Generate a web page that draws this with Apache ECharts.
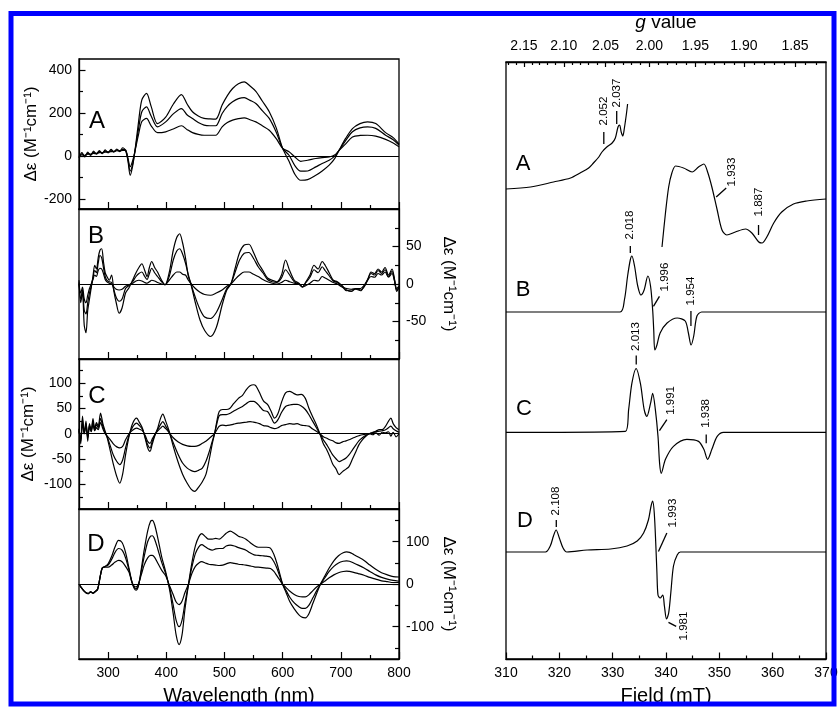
<!DOCTYPE html>
<html>
<head>
<meta charset="utf-8">
<script src="https://cdn.jsdelivr.net/npm/echarts@6/dist/echarts.min.js"></script>
<style>
  html, body { margin: 0; padding: 0; background: #fff; }
  #chart { width: 838px; height: 707px; }
</style>
</head>
<body>
<div id="chart"></div>
<script>
// ---------- CD spectra (Δε, M^-1 cm^-1) ----------
const wlA = [250,255,260,265,270,275,280,285,290,295,300,305,310,315,320,325,330,
  334,338,342,346,352,358,366,374,385,399,412,426,436,445,455,465,475,485,496,505,514,524,534,544,554,565,577,589,600,611,621,631,643,657,668,680,690,697,708,720,733,746,760,777,790,800];
const cdAHigh = [-10,15,-5,18,2,22,8,25,10,28,14,30,18,32,20,38,25,
  -20,-90,-50,20,150,260,290,230,150,180,240,285,240,205,185,174,172,171,236,280,313,335,344,325,300,255,205,130,35,-25,-85,-113,-110,-90,-70,-43,-10,26,80,127,150,158,150,108,85,55];
const cdAMid = [-5,10,0,12,5,15,12,20,14,22,18,25,20,28,24,30,28,
  -15,-70,-40,20,120,205,228,185,135,158,195,220,190,174,155,143,140,140,197,230,251,266,271,258,243,210,174,110,35,3,-45,-71,-70,-51,-35,-20,0,26,70,112,130,135,128,96,75,50];
const cdALow = [0,5,3,8,8,12,10,15,15,18,18,20,20,24,22,26,25,
  -10,-50,-25,20,95,160,174,140,108,112,125,140,122,108,100,96,96,96,135,155,166,173,177,168,158,140,119,80,35,19,-5,-25,-20,-12,-8,-5,5,26,55,88,95,96,92,77,60,42];

const wlB = [250,253,256,259,262,265,268,271,274,277,280,283,286,289,292,295,298,302,306,310,314,319,324,330,336,342,348,353,358,363,367,371,375,380,385,392,398,405,412,418,423,428,433,438,442,450,458,466,476,486,496,504,511,518,526,534,542,550,558,566,574,582,590,598,605,612,620,628,634,640,647,654,661,668,673,680,687,694,702,710,718,726,734,740,746,752,758,764,770,776,782,788,792,796,800];
const cdBHigh = [5,-25,-10,-55,-65,-35,-20,-5,10,25,20,35,45,47,30,15,10,5,12,-10,-25,-39,-32,-12,-5,5,15,22,27,18,10,22,30,22,16,5,-1,15,45,62,67,55,35,10,1,-25,-48,-62,-70,-58,-28,-8,0,20,42,52,53,42,28,18,8,5,3,12,32,18,5,1,-4,3,12,25,20,30,25,15,5,3,-2,-8,-10,-6,-8,-4,5,16,14,20,16,22,12,20,8,-10,-5];
const cdBMid = [2,-20,-8,-35,-40,-25,-12,-3,8,18,15,28,38,35,22,10,5,3,2,-8,-18,-23,-20,-6,-2,3,10,14,16,10,6,14,21,15,10,3,-1,10,32,44,47,40,28,12,1,-18,-34,-44,-46,-38,-21,-6,0,15,32,41,42,34,23,15,6,3,2,8,19,12,3,0,-4,2,9,19,15,23,18,11,4,2,-3,-9,-8,-7,-9,-3,6,14,12,18,14,19,10,17,6,-8,-4];
const cdBLow = [0,-12,-4,-20,-25,-15,-6,0,6,12,10,18,21,20,14,6,3,1,0,-4,-7,-8,-7,-3,-1,1,4,5,4,2,1,3,5,4,2,0,-1,5,12,16,16,13,12,5,1,-6,-11,-14,-15,-12,-8,-3,0,6,12,16,16,13,10,6,3,1,0,2,5,3,1,0,-4,-2,1,5,4,10,8,5,2,0,-4,-6,-7,-6,-6,-2,5,10,9,14,12,16,9,14,5,-6,-3];

const wlC = [250,253,256,259,262,265,268,271,274,277,280,283,287,291,295,299,304,309,315,320,325,330,336,342,349,354,359,364,368,372,376,380,385,390,394,399,405,412,420,428,436,443,449,456,462,468,474,479,483,487,491,497,503,509,516,524,531,538,544,550,554,560,567,574,580,586,592,598,605,612,619,625,632,639,645,651,658,664,670,676,681,686,692,697,703,709,714,720,726,731,737,743,749,755,760,766,771,777,782,786,790,795,800];
const cdCHigh = [10,-20,35,0,25,-15,20,5,30,10,22,15,41,20,5,-10,-35,-60,-85,-98,-80,-42,-5,20,31,22,11,-10,-28,-35,-20,-5,10,30,39,25,5,-25,-55,-80,-98,-110,-114,-105,-95,-81,-50,-20,0,25,44,48,48,50,60,70,76,88,95,97,95,82,65,58,45,31,40,62,81,84,80,77,78,70,51,35,18,0,-20,-32,-45,-60,-70,-81,-75,-70,-65,-50,-35,-22,-12,-5,0,3,5,8,8,15,25,31,20,12,8];
const cdCMid = [8,-15,28,3,20,-8,16,8,24,8,18,12,30,15,2,-8,-25,-42,-55,-61,-52,-28,-3,13,21,16,9,-8,-22,-28,-15,-3,8,18,24,15,3,-18,-40,-58,-68,-73,-75,-72,-68,-55,-35,-15,0,20,36,38,38,40,45,50,54,60,64,64,62,55,46,44,33,21,28,42,54,57,58,58,55,48,38,26,12,0,-12,-22,-32,-42,-50,-55,-52,-48,-42,-32,-22,-14,-8,-3,0,2,4,5,6,8,12,15,10,6,3];
const cdCLow = [5,-10,20,0,15,-5,12,4,18,6,12,8,22,10,0,-5,-12,-20,-26,-28,-25,-12,0,7,11,9,6,-4,-15,-19,-10,-2,5,11,15,10,2,-8,-16,-21,-24,-25,-25,-23,-19,-15,-9,-4,0,8,15,17,16,17,19,21,22,23,24,23,22,20,16,15,12,10,12,16,18,20,19,20,17,16,15,10,5,0,-6,-9,-12,-14,-18,-19,-16,-14,-12,-9,-6,-4,-2,-1,0,-2,2,-3,3,2,4,-5,3,-6,0];

const wlD = [250,254,258,262,266,270,274,278,282,286,290,295,300,306,312,318,324,330,336,341,345,348,352,357,362,368,373,376,380,386,392,399,406,412,417,422,427,432,438,444,450,456,461,467,473,479,485,491,497,503,510,517,524,531,537,544,551,558,565,572,579,585,590,595,600,606,612,620,628,634,639,645,652,659,665,672,680,688,696,704,710,715,722,730,740,750,760,770,780,790,800];
const cdDHigh = [0,-8,-15,-20,-22,-18,-21,-17,-12,15,38,42,48,65,88,103,98,75,37,5,-10,-14,-5,35,80,125,148,150,140,105,65,29,-15,-70,-120,-142,-120,-60,-2,50,90,112,119,112,106,106,108,106,112,120,125,120,113,110,106,98,91,87,87,87,85,70,50,25,0,-20,-40,-58,-72,-78,-79,-70,-45,-20,0,18,38,55,67,74,76,75,70,64,56,45,35,27,22,18,17];
const cdDMid = [0,-8,-15,-20,-22,-18,-21,-17,-12,15,38,42,45,58,75,84,80,62,33,5,-8,-10,-3,30,65,100,113,114,106,80,52,25,-10,-50,-85,-100,-85,-45,-2,40,72,88,93,88,83,80,83,84,84,90,92,90,86,83,80,74,69,68,67,66,64,53,38,19,0,-15,-30,-44,-53,-57,-57,-50,-32,-14,0,14,30,42,50,54,55,54,50,45,38,30,22,16,12,9,7];
const cdDLow = [0,-8,-15,-20,-22,-18,-21,-17,-12,15,38,40,40,45,52,56,53,42,28,5,-5,-6,0,22,45,62,68,68,63,48,33,20,-5,-25,-42,-48,-40,-20,0,25,42,50,53,50,47,46,45,44,45,48,51,49,47,46,45,43,41,40,39,38,37,30,20,10,0,-8,-16,-24,-29,-30,-30,-25,-15,-6,0,7,15,22,27,30,31,30,28,25,21,16,12,8,6,4,4];

// ---------- EPR spectra (field in mT, derivative intensity in arbitrary units) ----------
const MW_FREQ_GHZ = 9.43;
const G_FACTOR_CONST = 71.4477 * MW_FREQ_GHZ;   // g * B(mT)
const fieldOf = g => G_FACTOR_CONST / g;

const eprA1Field = [310,314.6,318.9,322.1,323.9,325.5,326.4,327.4,328.0,328.9,329.9,330.5,331.0,331.3,331.6,331.9,332.2,332.6,332.8];
const eprA1Int   = [0,2,7,11,16,21,26,32,37,42,46,51,62,64,57,53,61,76,85];
const eprA2Field = [339.25,339.9,340.5,341.1,341.8,343.3,344.9,346.1,347.1,347.8,348.6,349.6,350.5,351.4,353.0,354.9,356.1,357.4,358.0,358.9,360.2,361.7,363.9,366.4,370];
const eprA2Int   = [-58,-24,2,16,23,21,17,22,25,17,2,-21,-41,-46,-43,-40,-44,-53,-54,-48,-34,-23,-15,-12,-10];
const eprBField  = [310,331.4,332.2,332.8,333.3,333.6,334.1,334.7,335.3,335.9,336.6,337.1,337.5,337.7,337.9,338.3,338.9,340.2,342.1,343.6,344.2,344.7,345.2,345.8,346.7,370];
const eprBInt    = [0,0,12,36,52,56,46,26,17,22,36,26,2,-18,-38,-33,-21,-11,-6,-9,-21,-33,-24,-4,0,0];
const eprCField  = [310,332.4,333.0,333.6,334.4,335.2,335.9,336.4,337.1,337.5,338.0,338.5,338.8,339.1,339.9,341.4,343.9,346.1,347.1,347.8,348.6,349.6,350.8,370];
const eprCInt    = [0,1,23,49,64,49,23,16,29,39,23,-4,-31,-41,-27,-14,-7,-9,-17,-27,-17,-4,0,0];
const eprDField  = [310,317.4,318.3,318.9,319.4,320.0,320.7,321.4,325.2,329.6,332.7,334.6,335.8,336.7,337.2,337.5,337.8,338.1,338.3,338.5,338.9,339.4,339.7,340.1,340.5,340.9,341.4,342.1,342.7,370];
const eprDInt    = [0,0,6,16,22,14,4,0,2,3,6,11,19,32,46,51,39,6,-21,-43,-46,-43,-54,-67,-61,-41,-14,-3,0,0];

// g-value annotations: [g, lineStartInt, lineEndInt, lineStartDx, lineEndDx, textDx, textInt]
const gMarksA = [[2.052,45,57,0,0,0,78],[2.037,65,78,0,0,0,96],[1.933,-8,1,4.6,14.6,20.3,17],[1.887,-46,-36,1.6,1.6,1.6,-13]];
const gMarksB = [[2.018,59,66,-3,-3,-3,87],[1.996,5.6,15.6,0.5,6.5,12,35],[1.954,-14,1,-0.7,-0.7,-0.7,21]];
const gMarksC = [[2.013,68,77,-1.5,-1.5,-1.5,96],[1.991,1.7,12.7,2,9.4,13.4,32],[1.938,-11,-2,-0.6,-0.6,-0.6,19]];
const gMarksD = [[2.108,25,32,-1,-1,-1,51],[1.993,0.6,19,2.8,11.2,16.8,39],[1.981,-70.4,-74.4,1.9,9.6,17.6,-74]];

// ---------- tick values ----------
const wlMajor = [300,400,500,600,700,800];
const wlMinor = [350,450,550,650,750];
const fieldMajor = [310,320,330,340,350,360,370];
const fieldMinor = [315,325,335,345,355,365];
const gMajor = [2.15,2.10,2.05,2.00,1.95,1.90,1.85];
const gMinor = [2.17,2.16,2.14,2.13,2.12,2.11,2.09,2.08,2.07,2.06,2.04,2.03,2.02,2.01,1.99,1.98,1.97,1.96,1.94,1.93,1.92,1.91,1.89,1.88,1.87,1.86,1.84,1.83];
const yTicksA = { major: [-200,0,200,400], minor: [-100,100,300] };
const yTicksB = { major: [-50,0,50], minor: [-75,-25,25,75] };
const yTicksC = { major: [-100,-50,0,50,100], minor: [-125,-75,-25,25,75,125] };
const yTicksD = { major: [-100,0,100], minor: [-150,-50,50,150] };

// ---------- layout helpers ----------
const FONT = 'Liberation Sans, Arial, Helvetica, sans-serif';
const BLACK = '#000';
const pairs = (xs, ys) => xs.map((x, i) => [x, ys[i]]);
const dEps = 'Δε (M⁻¹cm⁻¹)';

function tickAxes(common, majors, minors, labels, majorLen, minorLen, extra) {
  const major = Object.assign({}, common, {
    axisLine: { show: true, onZero: false, lineStyle: { color: BLACK, width: 1.3 } },
    axisTick: { show: true, inside: true, length: majorLen, customValues: majors, lineStyle: { color: BLACK, width: 1.2 } },
    axisLabel: labels
      ? { show: true, customValues: labels, margin: 7, color: BLACK, fontSize: 14, fontFamily: FONT }
      : { show: false },
    splitLine: { show: false },
    minorTick: { show: false },
    minorSplitLine: { show: false }
  }, extra || {});
  const minor = Object.assign({}, common, {
    axisLine: { show: false, onZero: false },
    axisTick: { show: true, inside: true, length: minorLen, customValues: minors, lineStyle: { color: BLACK, width: 1.2 } },
    axisLabel: { show: false },
    splitLine: { show: false }
  });
  return [major, minor];
}

const nameStyle = { fontSize: 17, fontFamily: FONT, color: BLACK };

// left panel grids (A-D stacked) and EPR grid; fixed boxes, no automatic shrinking
const grids = [
  { left: 79, top: 59, width: 320, height: 150 },
  { left: 79, top: 209, width: 320, height: 150 },
  { left: 79, top: 359, width: 320, height: 150 },
  { left: 79, top: 509, width: 320, height: 150 },
  { left: 506, top: 62, width: 320, height: 597 }
].map(g => Object.assign(g, {
  show: true, borderColor: BLACK, borderWidth: 1.3, backgroundColor: 'transparent',
  containLabel: false, outerBoundsMode: 'none'
}));

const xAxes = [];
for (let i = 0; i < 4; i++) {
  const extra = i === 3 ? {
    name: 'Wavelength (nm)', nameLocation: 'middle', nameGap: 27,
    nameTextStyle: { fontSize: 20, fontFamily: FONT, color: BLACK }
  } : {};
  xAxes.push(...tickAxes({ type: 'value', gridIndex: i, min: 250, max: 800, position: 'bottom' },
    wlMajor, wlMinor, i === 3 ? wlMajor : null, 7, 4, extra));
}
// EPR field axis (index 8, 9)
xAxes.push(...tickAxes({ type: 'value', gridIndex: 4, min: 310, max: 370, position: 'bottom' },
  fieldMajor, fieldMinor, fieldMajor, 6.5, 3.5, {
    name: 'Field (mT)', nameLocation: 'middle', nameGap: 27,
    nameTextStyle: { fontSize: 20, fontFamily: FONT, color: BLACK }
  }));
// g-value axis on top (index 10, 11)
const gTop = tickAxes({ type: 'value', gridIndex: 4, min: 310, max: 370, position: 'top' },
  gMajor.map(fieldOf), gMinor.map(fieldOf), gMajor.map(fieldOf), 5, 3, {
    name: '{i|g} value', nameLocation: 'middle', nameGap: 30,
    nameTextStyle: { fontSize: 19, fontFamily: FONT, color: BLACK, rich: { i: { fontStyle: 'italic', fontSize: 19, fontFamily: FONT } } }
  });
gTop[0].axisLabel.formatter = v => (G_FACTOR_CONST / v).toFixed(2);
gTop[0].axisLabel.margin = 9;
xAxes.push(...gTop);

const yAxes = [];
yAxes.push(...tickAxes({ type: 'value', gridIndex: 0, min: -246.5, max: 450, position: 'left' },
  yTicksA.major, yTicksA.minor, yTicksA.major, 6.5, 4,
  { name: dEps, nameLocation: 'middle', nameGap: 37, nameRotate: 90, nameTextStyle: nameStyle }));
yAxes.push(...tickAxes({ type: 'value', gridIndex: 1, min: -100, max: 100, position: 'right' },
  yTicksB.major, yTicksB.minor, yTicksB.major, 6.5, 4,
  { name: dEps, nameLocation: 'middle', nameGap: 41, nameRotate: -90, nameTextStyle: nameStyle }));
yAxes.push(...tickAxes({ type: 'value', gridIndex: 2, min: -149, max: 148, position: 'left' },
  yTicksC.major, yTicksC.minor, yTicksC.major, 6.5, 4,
  { name: dEps, nameLocation: 'middle', nameGap: 42, nameRotate: 90, nameTextStyle: nameStyle }));
yAxes.push(...tickAxes({ type: 'value', gridIndex: 3, min: -176, max: 177, position: 'right' },
  yTicksD.major, yTicksD.minor, yTicksD.major, 6.5, 4,
  { name: dEps, nameLocation: 'middle', nameGap: 41, nameRotate: -90, nameTextStyle: nameStyle }));
// hidden intensity axes for the four stacked EPR traces (index 8-11)
[[-470, 127], [-347, 250], [-227, 371], [-107, 490]].forEach(([mn, mx]) => {
  yAxes.push({ type: 'value', gridIndex: 4, min: mn, max: mx, show: false, splitLine: { show: false } });
});

const lineStyle = { color: BLACK, width: 1.2 };
function trace(data, xi, yi, extra) {
  return Object.assign({
    type: 'line', data, xAxisIndex: xi, yAxisIndex: yi,
    showSymbol: false, symbol: 'none', smooth: 0.3, lineStyle, silent: true, clip: true
  }, extra || {});
}
const zeroLine = {
  silent: true, symbol: 'none', label: { show: false },
  lineStyle: { color: BLACK, width: 1.2, type: 'solid' }, data: [{ yAxis: 0 }]
};

const series = [];
const cdPanels = [
  [wlA, cdAHigh, cdAMid, cdALow],
  [wlB, cdBHigh, cdBMid, cdBLow],
  [wlC, cdCHigh, cdCMid, cdCLow],
  [wlD, cdDHigh, cdDMid, cdDLow]
];
cdPanels.forEach(([wl, hi, mid, lo], i) => {
  series.push(trace(pairs(wl, hi), 2 * i, 2 * i, { markLine: zeroLine }));
  series.push(trace(pairs(wl, mid), 2 * i, 2 * i));
  series.push(trace(pairs(wl, lo), 2 * i, 2 * i));
});

series.push(trace(pairs(eprA1Field, eprA1Int), 8, 8));
series.push(trace(pairs(eprA2Field, eprA2Int), 8, 8));
series.push(trace(pairs(eprBField, eprBInt), 8, 9));
series.push(trace(pairs(eprCField, eprCInt), 8, 10));
series.push(trace(pairs(eprDField, eprDInt), 8, 11));

function gMarkSeries(marks, yi) {
  return {
    type: 'custom', coordinateSystem: 'cartesian2d', xAxisIndex: 8, yAxisIndex: yi,
    silent: true, clip: false, data: marks,
    renderItem(params, api) {
      const g = api.value(0);
      const f = fieldOf(g);
      const p0 = api.coord([f, api.value(1)]);
      const p1 = api.coord([f, api.value(2)]);
      const pt = api.coord([f, api.value(6)]);
      return {
        type: 'group',
        children: [
          { type: 'line', shape: { x1: p0[0] + api.value(3), y1: p0[1], x2: p1[0] + api.value(4), y2: p1[1] },
            style: { stroke: BLACK, lineWidth: 1.3 } },
          { type: 'text', x: pt[0] + api.value(5), y: pt[1], rotation: Math.PI / 2,
            style: { text: g.toFixed(3), fill: BLACK, font: '11.5px ' + FONT,
                     align: 'center', verticalAlign: 'middle', textAlign: 'center', textVerticalAlign: 'middle' } }
        ]
      };
    }
  };
}
series.push(gMarkSeries(gMarksA, 8));
series.push(gMarkSeries(gMarksB, 9));
series.push(gMarkSeries(gMarksC, 10));
series.push(gMarkSeries(gMarksD, 11));

function letter(t, x, y, size) {
  return { type: 'text', x, y, z: 50, silent: true,
    style: { text: t, fill: BLACK, font: size + 'px ' + FONT, align: 'center', verticalAlign: 'middle',
             textAlign: 'center', textVerticalAlign: 'middle' } };
}

const option = {
  animation: false,
  backgroundColor: '#fff',
  textStyle: { fontFamily: FONT, color: BLACK },
  grid: grids,
  xAxis: xAxes,
  yAxis: yAxes,
  series,
  graphic: [
    letter('A', 97, 121, 24), letter('B', 96, 236, 24), letter('C', 97, 396, 24), letter('D', 96, 544, 24),
    letter('A', 523, 164, 22), letter('B', 523, 290, 22), letter('C', 524, 409, 22), letter('D', 525, 521, 22),
    { type: 'rect', z: 100, silent: true, shape: { x: 11, y: 13.5, width: 823, height: 690.5 },
      style: { fill: 'none', stroke: '#0000ff', lineWidth: 5 } }
  ]
};

const chart = echarts.init(document.getElementById('chart'), null, { renderer: 'canvas' });
chart.setOption(option);
</script>
</body>
</html>
